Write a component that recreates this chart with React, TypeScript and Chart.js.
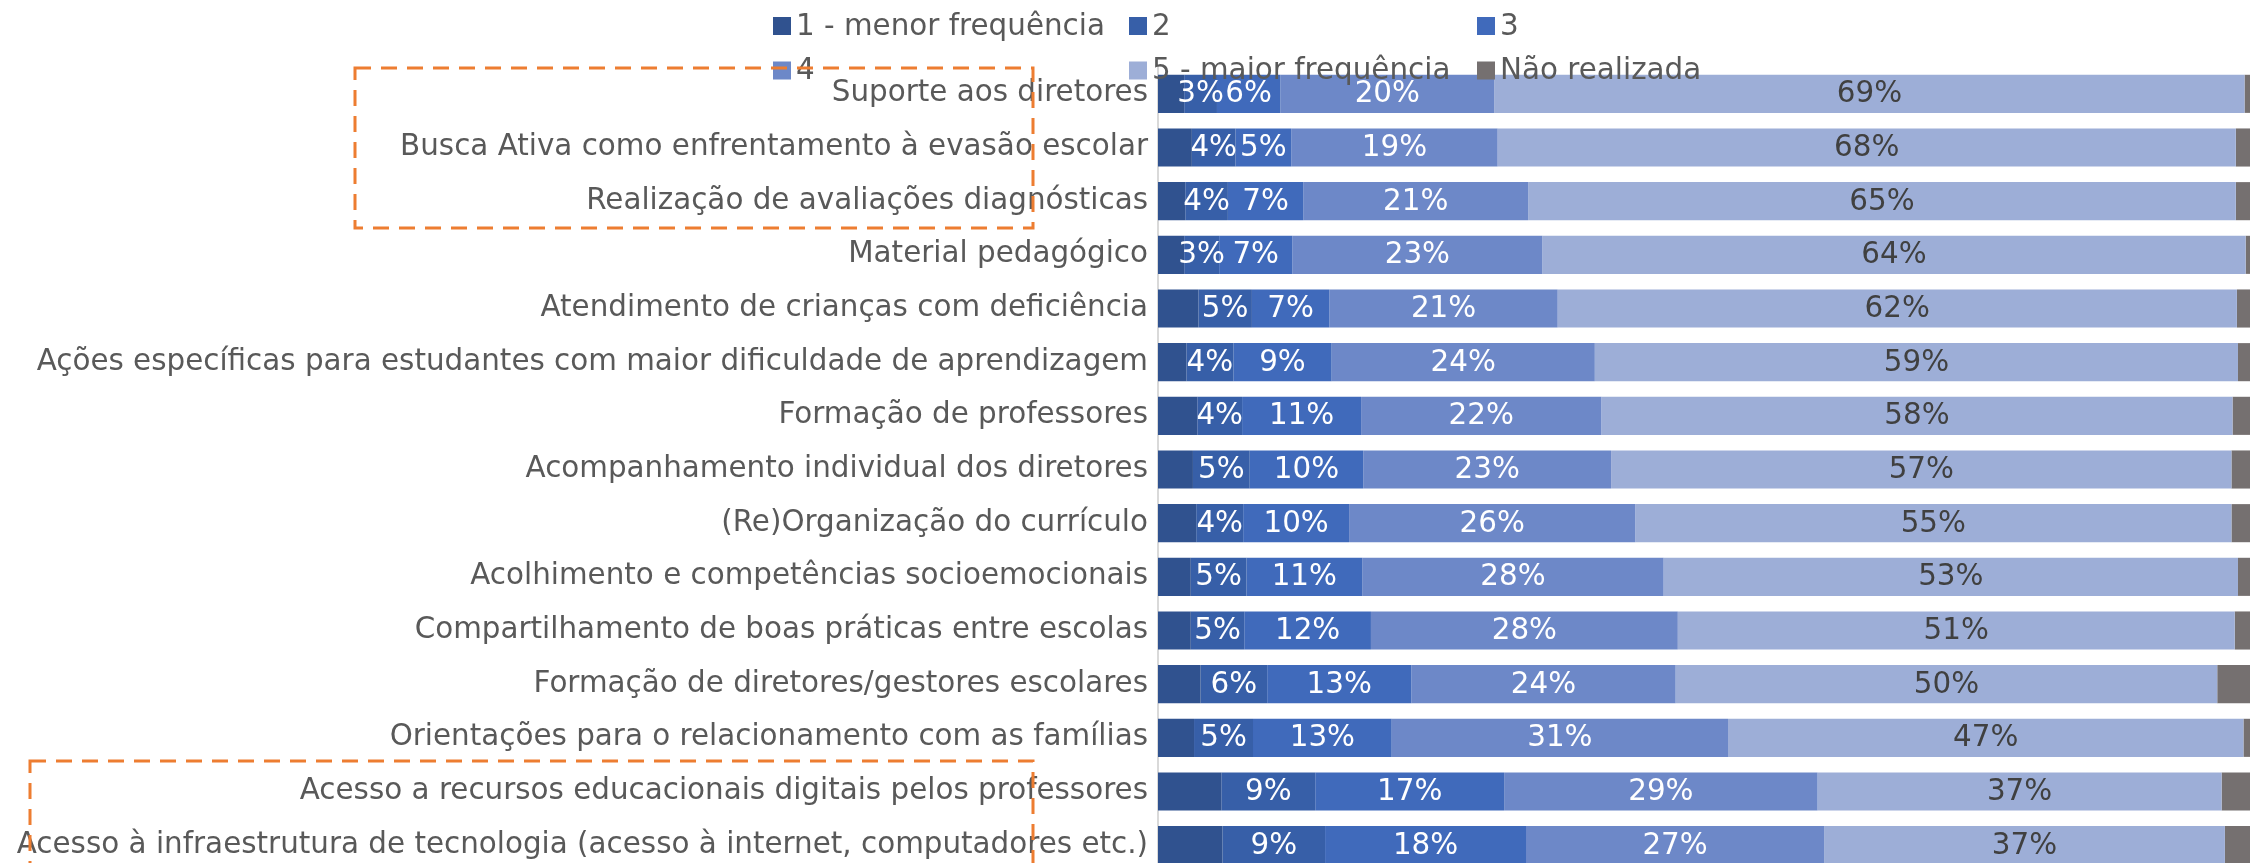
import React, { useEffect, useRef } from "react";
import { Chart, registerables } from "chart.js";

Chart.register(...registerables);

const categories = [
  "Suporte aos diretores",
  "Busca Ativa como enfrentamento à evasão escolar",
  "Realização de avaliações diagnósticas",
  "Material pedagógico",
  "Atendimento de crianças com deficiência",
  "Ações específicas para estudantes com maior dificuldade de aprendizagem",
  "Formação de professores",
  "Acompanhamento individual dos diretores",
  "(Re)Organização do currículo",
  "Acolhimento e competências socioemocionais",
  "Compartilhamento de boas práticas entre escolas",
  "Formação de diretores/gestores escolares",
  "Orientações para o relacionamento com as famílias",
  "Acesso a recursos educacionais digitais pelos professores",
  "Acesso à infraestrutura de tecnologia (acesso à internet, computadores etc.)",
];

const seriesNames = ["1 - menor frequência", "2", "3", "4", "5 - maior frequência", "Não realizada"];

const freq1 = [2.4, 3.1, 2.5, 2.4, 3.7, 2.6, 3.6, 3.2, 3.5, 3.0, 3.0, 3.9, 3.3, 5.8, 5.9];
const freq2 = [3.0, 4.0, 3.9, 3.2, 4.9, 4.3, 4.1, 5.2, 4.3, 5.1, 4.9, 6.1, 5.4, 8.6, 9.4];
const freq3 = [5.8, 5.1, 6.9, 6.7, 7.1, 9.0, 10.9, 10.4, 9.7, 10.6, 11.6, 13.2, 12.7, 17.3, 18.4];
const freq4 = [19.6, 18.9, 20.6, 22.9, 20.9, 24.1, 22.0, 22.7, 26.2, 27.6, 28.1, 24.2, 30.8, 28.7, 27.3];
const freq5 = [68.7, 67.6, 64.8, 64.4, 62.2, 58.9, 57.8, 56.8, 54.6, 52.6, 51.0, 49.6, 47.2, 37.0, 36.7];
const naoRealizada = [0.5, 1.3, 1.3, 0.4, 1.2, 1.1, 1.6, 1.7, 1.7, 1.1, 1.4, 3.0, 0.6, 2.6, 2.3];

const colors = ["#30528F", "#375FA8", "#406ABB", "#6D88C8", "#9DAED7", "#757070"];
const FONT = '"DejaVu Sans", sans-serif';
const FONT_SIZE = 29.4;

const labelPlugin = {
  id: "barLabels",
  afterDatasetsDraw(chart: any) {
    const ctx = chart.ctx;
    ctx.save();
    ctx.font = `${FONT_SIZE}px ${FONT}`;
    ctx.textAlign = "center";
    ctx.textBaseline = "middle";
    for (let d = 1; d <= 4; d++) {
      const meta = chart.getDatasetMeta(d);
      const data = chart.data.datasets[d].data as number[];
      ctx.fillStyle = d === 4 ? "#404040" : "#FFFFFF";
      meta.data.forEach((bar: any, i: number) => {
        const cx = (bar.x + bar.base) / 2;
        ctx.fillText(Math.round(data[i]) + "%", cx, bar.y + 1);
      });
    }
    ctx.restore();
  },
};

const legendPlugin = {
  id: "gridLegend",
  afterDraw(chart: any) {
    const ctx = chart.ctx;
    ctx.save();
    ctx.font = `${FONT_SIZE}px ${FONT}`;
    ctx.textAlign = "left";
    ctx.textBaseline = "middle";
    const cols = [773, 1129, 1477];
    const rows = [26, 70.5];
    seriesNames.forEach((name, i) => {
      const x = cols[i % 3];
      const y = rows[Math.floor(i / 3)];
      ctx.fillStyle = colors[i];
      ctx.fillRect(x, y - 9, 18, 18);
      ctx.fillStyle = "#595959";
      ctx.fillText(name, x + 23, y + 1);
    });
    // orange dashed annotation boxes
    ctx.strokeStyle = "#ED7D31";
    ctx.lineWidth = 3;
    ctx.setLineDash([16, 10]);
    ctx.strokeRect(355, 68, 678, 160);
    ctx.strokeRect(30, 761, 1003, 160);
    ctx.restore();
  },
};

export default function App() {
  const ref = useRef<HTMLCanvasElement>(null);
  useEffect(() => {
    if (!ref.current) return;
    const mk = (i: number, data: number[]) => ({
      label: seriesNames[i],
      data,
      backgroundColor: colors[i],
      borderWidth: 0,
      barPercentage: 0.71,
      categoryPercentage: 1,
    });
    const chart = new Chart(ref.current, {
      type: "bar",
      data: {
        labels: categories,
        datasets: [
          mk(0, freq1),
          mk(1, freq2),
          mk(2, freq3),
          mk(3, freq4),
          mk(4, freq5),
          mk(5, naoRealizada),
        ],
      },
      options: {
        indexAxis: "y",
        responsive: false,
        animation: false,
        layout: { padding: { top: 67, right: 11, bottom: 10, left: 0 } },
        plugins: { legend: { display: false }, tooltip: { enabled: false } },
        scales: {
          x: { stacked: true, min: 0, max: 100, display: false },
          y: {
            stacked: true,
            grid: { display: false, drawTicks: false },
            border: { display: true, color: "#D9D9D9", width: 2 },
            ticks: { font: { family: FONT, size: FONT_SIZE }, color: "#595959", padding: 10 },
            afterFit: (s: any) => {
              s.width = 1158;
              s.paddingTop = 0;
              s.paddingBottom = 0;
            },
          },
        },
      },
      plugins: [labelPlugin, legendPlugin],
    });
    return () => chart.destroy();
  }, []);
  return (
    <div style={{ position: "fixed", left: 0, top: 0, width: 2261, height: 863, overflow: "hidden", background: "#fff" }}>
      <canvas ref={ref} width={2261} height={882} style={{ display: "block" }} />
    </div>
  );
}
